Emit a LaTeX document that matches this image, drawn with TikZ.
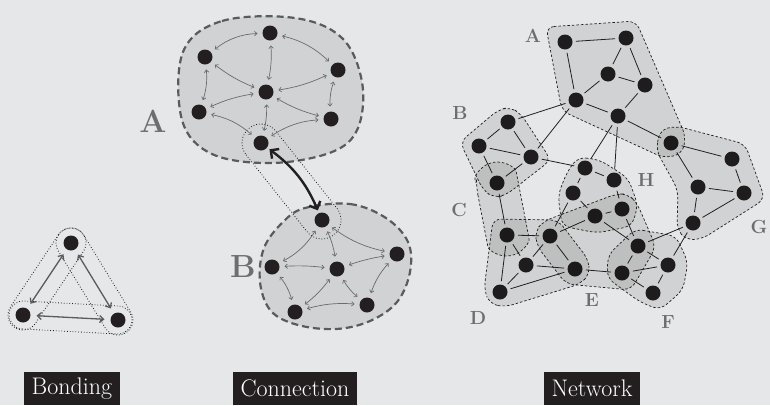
\documentclass[tikz,border=0pt]{standalone}
\usetikzlibrary{calc,arrows.meta}
\definecolor{bg}{HTML}{E6E7E8}
\definecolor{dotc}{HTML}{231F20}
\definecolor{cfill}{HTML}{D1D2D4}
\definecolor{cline}{HTML}{5A5B5D}
\definecolor{lettc}{HTML}{6D6E71}
\definecolor{arrc}{HTML}{6A6B6D}
\newcommand\capsl[4][]{%
  \path let \p1=($(#3)-(#2)$) in \pgfextra{\pgfmathsetmacro\capang{atan2(\y1,\x1)}\pgfmathsetmacro\caplen{veclen(\x1,\y1)/2}\xdef\capang{\capang}\xdef\caplen{\caplen}};
  \begin{scope}[shift={($(#2)!0.5!(#3)$)},rotate=\capang]
    \path[#1] (-\caplen pt,-#4pt) -- (\caplen pt,-#4pt) arc[start angle=-90,end angle=90,radius=#4pt] -- (-\caplen pt,#4pt) arc[start angle=90,end angle=270,radius=#4pt] -- cycle;
  \end{scope}}
\begin{document}
\begin{tikzpicture}[x=1pt,y=-1pt,
  dot/.style={circle,fill=dotc,minimum size=15pt,inner sep=0pt,outer sep=0pt},
  ndot/.style={dot,outer sep=3.5pt},
  link/.style={line width=0.8pt,draw=dotc},
  region/.style={draw=dotc,dash pattern=on 2.5pt off 2pt,line width=0.7pt,fill=black,fill opacity=0.09,rounded corners=8pt},
  dotcap/.style={draw=dotc,dotted,line width=0.8pt},
  cluster/.style={draw=cline,fill=cfill,line width=2.2pt,dash pattern=on 7pt off 4pt},
  carrow/.style={draw=arrc,line width=0.7pt,{Straight Barb[length=2.5pt,width=4.5pt]}-{Straight Barb[length=2.5pt,width=4.5pt]},shorten <=5pt,shorten >=5pt},
  barrow/.style={draw=cline,line width=1.3pt,{Straight Barb[length=4pt,width=7pt]}-{Straight Barb[length=4pt,width=7pt]},shorten <=6pt,shorten >=6pt},
  bigarrow/.style={draw=dotc,line width=2.4pt,{Straight Barb[length=6pt,width=12pt]}-{Straight Barb[length=6pt,width=12pt]},shorten <=3pt,shorten >=3pt},
  letter/.style={text=lettc,font=\fontsize{19}{19}\selectfont\bfseries,inner sep=0pt},
  bigletter/.style={text=lettc,font=\fontsize{32}{32}\selectfont\bfseries,inner sep=0pt},
  tag/.style={fill=dotc,text=white,font=\fontsize{24}{24}\selectfont,inner xsep=8pt,inner ysep=0pt,minimum height=33pt}
]
\fill[bg] (0,0) rectangle (770,405);
\useasboundingbox (0,0) rectangle (770,405);

% ================= Bonding =================
\node[dot] (bo1) at (71,243) {};
\node[dot] (bo2) at (23,315) {};
\node[dot] (bo3) at (118,320) {};
\capsl[dotcap]{bo1}{bo2}{15}
\capsl[dotcap]{bo1}{bo3}{15}
\capsl[dotcap]{bo2}{bo3}{14}
\draw[barrow] (bo1) -- (bo2);
\draw[barrow] (bo1) -- (bo3);
\draw[barrow] (bo2) -- (bo3);

% ================= Connection =================
\draw[cluster] plot[smooth cycle,tension=0.6] coordinates {(183,52) (222,21) (295,18) (342,38) (362,82) (358,128) (332,152) (272,163) (212,154) (182,120)};
\draw[cluster] plot[smooth cycle,tension=0.6] coordinates {(305,208) (350,204) (386,218) (408,242) (410,272) (397,302) (370,321) (336,329) (298,325) (271,311) (260,282) (264,248) (283,222)};
\node[bigletter] (la) at (153,121) {A};
\node[bigletter] (lb) at (243,267) {B};

\node[dot] (ca1) at (270,33) {};
\node[dot] (ca2) at (205,57) {};
\node[dot] (ca3) at (338,70) {};
\node[dot] (ca4) at (266,92) {};
\node[dot] (ca5) at (199,112) {};
\node[dot] (ca6) at (331,119) {};
\node[dot] (ca7) at (261,143) {};
\node[dot] (cb1) at (322,220) {};
\node[dot] (cb2) at (397,254) {};
\node[dot] (cb3) at (272,267) {};
\node[dot] (cb4) at (337,269) {};
\node[dot] (cb5) at (367,305) {};
\node[dot] (cb6) at (295,312) {};

\capsl[dotcap]{ca7}{cb1}{19}

\draw[carrow] (ca1) to[bend right=18] (ca2);
\draw[carrow] (ca1) to[bend left=15] (ca3);
\draw[carrow] (ca1) to[bend left=8] (ca4);
\draw[carrow] (ca2) to[bend right=8] (ca4);
\draw[carrow] (ca3) to[bend left=8] (ca4);
\draw[carrow] (ca2) to[bend left=12] (ca5);
\draw[carrow] (ca3) to[bend right=12] (ca6);
\draw[carrow] (ca5) to[bend left=8] (ca4);
\draw[carrow] (ca6) to[bend left=8] (ca4);
\draw[carrow] (ca5) to[bend left=15] (ca7);
\draw[carrow] (ca6) to[bend right=15] (ca7);
\draw[carrow] (ca4) to[bend left=8] (ca7);

\draw[carrow] (cb1) to[bend left=15] (cb3);
\draw[carrow] (cb1) to[bend right=12] (cb2);
\draw[carrow] (cb1) to[bend left=8] (cb4);
\draw[carrow] (cb3) to[bend left=5] (cb4);
\draw[carrow] (cb4) to[bend left=5] (cb2);
\draw[carrow] (cb4) to[bend left=8] (cb6);
\draw[carrow] (cb4) to[bend right=10] (cb5);
\draw[carrow] (cb3) to[bend left=12] (cb6);
\draw[carrow] (cb6) to[bend left=10] (cb5);
\draw[carrow] (cb2) to[bend right=12] (cb5);

\draw[bigarrow] (ca7) to[bend left=15] (cb1);

% ================= Network =================
\node[ndot] (a1) at (565,42) {};
\node[ndot] (a2) at (626,38) {};
\node[ndot] (a3) at (608,74) {};
\node[ndot] (a4) at (645,85) {};
\node[ndot] (a5) at (576,100) {};
\node[ndot] (a6) at (618,116) {};
\node[ndot] (b1) at (508,122) {};
\node[ndot] (b2) at (479,146) {};
\node[ndot] (b3) at (531,157) {};
\node[ndot] (bc) at (497,183) {};
\node[ndot] (cd) at (507,235) {};
\node[ndot] (d2) at (526,265) {};
\node[ndot] (d3) at (500,292) {};
\node[ndot] (e1) at (550,236) {};
\node[ndot] (e2) at (575,269) {};
\node[ndot] (h1) at (585,168) {};
\node[ndot] (h2) at (614,180) {};
\node[ndot] (h3) at (573,193) {};
\node[ndot] (h4) at (595,216) {};
\node[ndot] (h5) at (622,209) {};
\node[ndot] (f1) at (638,246) {};
\node[ndot] (f2) at (668,265) {};
\node[ndot] (f3) at (622,273) {};
\node[ndot] (f4) at (653,293) {};
\node[ndot] (g1) at (671,143) {};
\node[ndot] (g2) at (732,159) {};
\node[ndot] (g3) at (698,187) {};
\node[ndot] (g4) at (744,193) {};
\node[ndot] (g5) at (693,223) {};

% regions
\path[region] (546,27) -- (636,21) -- (686,137) -- (682,154) -- (664,158) -- (562,111) -- cycle;
\path[region] (656,150) -- (660,130) -- (676,126) -- (745,144) -- (765,199) -- (702,239) -- (686,240) -- (677,229) -- (678,190) -- cycle;
\path[region] (498,110) -- (510,107) -- (521,114) -- (551,160) -- (506,195) -- (494,198) -- (483,190) -- (460,142) -- cycle;
\capsl[region]{bc}{cd}{21}
\path[region] (493,219) -- (558,220) -- (588,259) -- (590,274) -- (580,284) -- (505,307) -- (490,304) -- (484,290) -- cycle;
\path[region] (537,246) -- (535,231) -- (544,221) -- (616,194) -- (628,194) -- (637,203) -- (656,247) -- (631,290) -- (566,284) -- cycle;
\path[region] (578,157) -- (600,160) -- (628,178) -- (638,205) -- (632,226) -- (597,233) -- (562,226) -- (558,195) -- (567,172) -- cycle;
\path[region] (635,229) -- (676,236) -- (688,262) -- (683,290) -- (660,310) -- (640,302) -- (607,278) -- (608,255) -- cycle;

% links
\foreach \u/\v in {a1/a2,a1/a5,a2/a3,a2/a4,a3/a4,a3/a5,a5/a6,a4/a6,a6/g1,a5/b1,a5/b3,a6/h1,a6/h2,
  b1/b2,b1/b3,b2/b3,b2/bc,b3/bc,b3/h1,bc/cd,
  cd/e1,cd/d2,cd/d3,d2/e1,d2/e2,d2/d3,d3/e2,e1/e2,e1/h3,e1/h4,
  h1/h2,h1/h3,h3/h4,h4/h5,h2/h5,h4/f1,h5/f1,
  g1/g2,g1/g3,g2/g4,g3/g4,g3/g5,g4/g5,g5/f1,g5/f2,
  f1/f2,f1/f3,f2/f3,f2/f4,f3/f4,e2/f3}
  \draw[link] (\u) -- (\v);

\node[letter] (nA) at (533,36) {A};
\node[letter] (nB) at (460,113) {B};
\node[letter] (nC) at (459,210) {C};
\node[letter] (nD) at (478,318) {D};
\node[letter] (nE) at (592,300) {E};
\node[letter] (nF) at (668,322) {F};
\node[letter] (nG) at (759,227) {G};
\node[letter] (nH) at (646,180) {H};

% ================= Tags =================
\node[tag] (t1) at (72,388.5) {Bonding};
\node[tag] (t2) at (295,388.5) {Connection};
\node[tag] (t3) at (592,388.5) {Network};
\end{tikzpicture}
\end{document}
